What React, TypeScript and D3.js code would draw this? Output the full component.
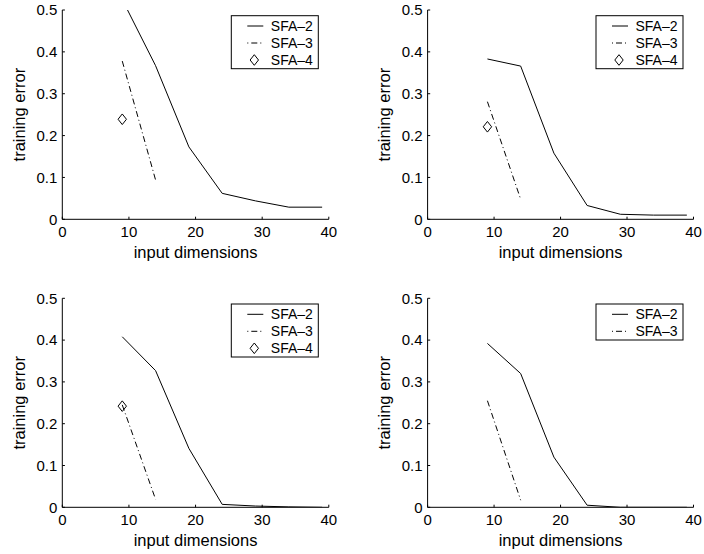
import React from "react";
import * as d3 from "d3";

// ---- data ----
const xDims = [9, 14, 19, 24, 29, 34, 39];
const xDimsSfa3 = [9, 14];
const xDimsSfa4 = [9];

const sfa2TopLeft = [0.525, 0.367, 0.173, 0.062, 0.044, 0.029, 0.029];
const sfa3TopLeft = [0.378, 0.094];
const sfa4TopLeft = [0.239];

const sfa2TopRight = [0.383, 0.366, 0.158, 0.033, 0.012, 0.01, 0.01];
const sfa3TopRight = [0.281, 0.048];
const sfa4TopRight = [0.221];

const sfa2BottomLeft = [0.408, 0.327, 0.141, 0.007, 0.003, 0.001, 0.0];
const sfa3BottomLeft = [0.245, 0.019];
const sfa4BottomLeft = [0.242];

const sfa2BottomRight = [0.392, 0.32, 0.12, 0.005, 0.0, 0.0, 0.0];
const sfa3BottomRight = [0.255, 0.017];
const sfa4BottomRight: number[] = [];

const xTicks = [0, 10, 20, 30, 40];
const yTicks = [0, 0.1, 0.2, 0.3, 0.4, 0.5];
const xTickLabels = ["0", "10", "20", "30", "40"];
const yTickLabels = ["0", "0.1", "0.2", "0.3", "0.4", "0.5"];
const seriesNames = ["SFA–2", "SFA–3", "SFA–4"];
const xTitle = "input dimensions";
const yTitle = "training error";

const FONT = "'Liberation Sans', Arial, Helvetica, sans-serif";

type PanelProps = {
  id: string;
  x0: number;
  x1: number;
  y0: number;
  y1: number;
  sfa2: number[];
  sfa3: number[];
  sfa4: number[];
};

function Panel({ id, x0, x1, y0, y1, sfa2, sfa3, sfa4 }: PanelProps) {
  const x = d3.scaleLinear().domain([0, 40]).range([x0, x1]);
  const y = d3.scaleLinear().domain([0, 0.5]).range([y1, y0]);
  const line = d3
    .line<[number, number]>()
    .x((d) => x(d[0]))
    .y((d) => y(d[1]));
  const p2 = line(xDims.map((d, i) => [d, sfa2[i]] as [number, number])) || "";
  const p3 = line(xDimsSfa3.map((d, i) => [d, sfa3[i]] as [number, number])) || "";
  const diamonds = sfa4.map((v, i) => [xDimsSfa4[i], v]);
  const legendCount = sfa4.length > 0 ? 3 : 2;
  const lx = x1 - 97.5;
  const ly = y0 + 5.7;
  const lw = 87;
  const lh = legendCount * 17 + 2;
  const tick = 2.6;
  return (
    <g>
      <defs>
        <clipPath id={id}>
          <rect x={x0} y={y0} width={x1 - x0} height={y1 - y0} />
        </clipPath>
      </defs>
      {/* axes */}
      <line x1={x0} y1={y0} x2={x0} y2={y1} stroke="#000" strokeWidth={1} />
      <line x1={x0} y1={y1} x2={x1} y2={y1} stroke="#000" strokeWidth={1} />
      {yTicks.map((t, i) => (
        <g key={"y" + i}>
          <line x1={x0} x2={x0 + tick} y1={y(t)} y2={y(t)} stroke="#000" strokeWidth={1} />
          <text
            x={x0 - 5}
            y={y(t) + 5.2}
            textAnchor="end"
            fontFamily={FONT}
            fontSize={15}
            fill="#000"
          >
            {yTickLabels[i]}
          </text>
        </g>
      ))}
      {xTicks.map((t, i) => (
        <g key={"x" + i}>
          <line x1={x(t)} x2={x(t)} y1={y1} y2={y1 - tick} stroke="#000" strokeWidth={1} />
          <text
            x={x(t)}
            y={y1 + 18}
            textAnchor="middle"
            fontFamily={FONT}
            fontSize={15}
            fill="#000"
          >
            {xTickLabels[i]}
          </text>
        </g>
      ))}
      <text
        x={(x0 + x1) / 2}
        y={y1 + 38.5}
        textAnchor="middle"
        fontFamily={FONT}
        fontSize={16.5}
        fill="#000"
      >
        {xTitle}
      </text>
      <text
        transform={`translate(${x0 - 37.5},${(y0 + y1) / 2}) rotate(-90)`}
        textAnchor="middle"
        fontFamily={FONT}
        fontSize={16.5}
        fill="#000"
      >
        {yTitle}
      </text>
      {/* data */}
      <g clipPath={`url(#${id})`}>
        <path d={p2} fill="none" stroke="#000" strokeWidth={1} />
        <path d={p3} fill="none" stroke="#000" strokeWidth={1} strokeDasharray="6,3,1,3" />
        {diamonds.map((d, i) => (
          <path
            key={i}
            transform={`translate(${x(d[0])},${y(d[1])})`}
            d="M0,-5.3L4.2,0L0,5.3L-4.2,0Z"
            fill="none"
            stroke="#000"
            strokeWidth={1}
          />
        ))}
      </g>
      {/* legend */}
      <rect x={lx} y={ly} width={lw} height={lh} fill="#fff" stroke="#000" strokeWidth={1} />
      {seriesNames.slice(0, legendCount).map((name, i) => {
        const cy = ly + 10.3 + 17 * i;
        return (
          <g key={name}>
            {i === 0 && (
              <line x1={lx + 16} x2={lx + 32} y1={cy} y2={cy} stroke="#000" strokeWidth={1} />
            )}
            {i === 1 && (
              <line
                x1={lx + 16}
                x2={lx + 32}
                y1={cy}
                y2={cy}
                stroke="#000"
                strokeWidth={1}
                strokeDasharray="1,3,6,3"
              />
            )}
            {i === 2 && (
              <path
                transform={`translate(${lx + 23},${cy})`}
                d="M0,-5.3L4.2,0L0,5.3L-4.2,0Z"
                fill="none"
                stroke="#000"
                strokeWidth={1}
              />
            )}
            <text x={lx + 39.5} y={cy + 5} fontFamily={FONT} fontSize={14} fill="#000">
              {name}
            </text>
          </g>
        );
      })}
    </g>
  );
}

export default function App() {
  const L = [62.3, 328.8];
  const R = [427.6, 693.5];
  const T = [10, 219.3];
  const B = [298.3, 507.3];
  return (
    <svg
      width={704}
      height={554}
      style={{ position: "absolute", left: 0, top: 0, background: "#fff" }}
    >
      <rect x={0} y={0} width={704} height={554} fill="#fff" />
      <Panel id="c1" x0={L[0]} x1={L[1]} y0={T[0]} y1={T[1]} sfa2={sfa2TopLeft} sfa3={sfa3TopLeft} sfa4={sfa4TopLeft} />
      <Panel id="c2" x0={R[0]} x1={R[1]} y0={T[0]} y1={T[1]} sfa2={sfa2TopRight} sfa3={sfa3TopRight} sfa4={sfa4TopRight} />
      <Panel id="c3" x0={L[0]} x1={L[1]} y0={B[0]} y1={B[1]} sfa2={sfa2BottomLeft} sfa3={sfa3BottomLeft} sfa4={sfa4BottomLeft} />
      <Panel id="c4" x0={R[0]} x1={R[1]} y0={B[0]} y1={B[1]} sfa2={sfa2BottomRight} sfa3={sfa3BottomRight} sfa4={sfa4BottomRight} />
    </svg>
  );
}
